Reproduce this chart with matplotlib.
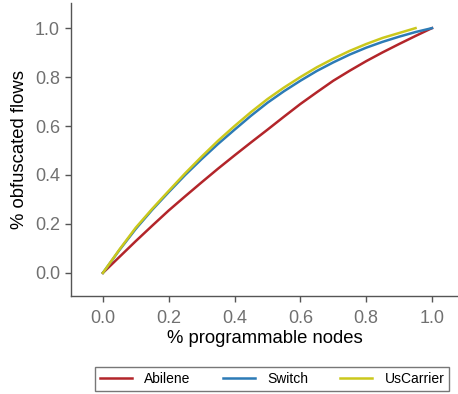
import matplotlib
matplotlib.use("Agg")
import matplotlib.pyplot as plt

plt.rcParams['font.family'] = ['Liberation Sans', 'DejaVu Sans']

# programmable nodes fraction
x_full = [0.0, 0.05, 0.1, 0.15, 0.2, 0.25, 0.3, 0.35, 0.4, 0.45, 0.5,
          0.55, 0.6, 0.65, 0.7, 0.75, 0.8, 0.85, 0.9, 0.95, 1.0]
abilene = [0.0, 0.065, 0.13, 0.193, 0.255, 0.313, 0.37, 0.426, 0.48, 0.533, 0.585,
           0.638, 0.69, 0.738, 0.785, 0.826, 0.865, 0.901, 0.935, 0.968, 1.0]
switch = [0.0, 0.093, 0.18, 0.258, 0.33, 0.4, 0.465, 0.527, 0.585, 0.642, 0.695,
          0.742, 0.785, 0.825, 0.86, 0.892, 0.92, 0.944, 0.965, 0.984, 1.0]
x_us = x_full[:20]
uscarrier = [0.0, 0.095, 0.185, 0.262, 0.335, 0.407, 0.475, 0.54, 0.6, 0.657, 0.71,
             0.757, 0.8, 0.84, 0.875, 0.907, 0.935, 0.96, 0.98, 1.0]

xticks = [0.0, 0.2, 0.4, 0.6, 0.8, 1.0]
yticks = [0.0, 0.2, 0.4, 0.6, 0.8, 1.0]

fig = plt.figure(figsize=(4.58, 3.94), dpi=100)
ax = fig.add_axes([0.155, 0.249, 0.845, 0.743])

ax.plot(x_full, abilene, color='#B3252A', lw=1.8, label='Abilene')
ax.plot(x_full, switch, color='#2C7BB6', lw=1.8, label='Switch')
ax.plot(x_us, uscarrier, color='#CBC81C', lw=1.8, label='UsCarrier')

ax.set_xlim(-0.097, 1.079)
ax.set_ylim(-0.094, 1.102)
ax.set_xticks(xticks)
ax.set_yticks(yticks)
ax.set_xticklabels([f'{v:.1f}' for v in xticks])
ax.set_yticklabels([f'{v:.1f}' for v in yticks])

for s in ['top', 'right']:
    ax.spines[s].set_visible(False)
for s in ['left', 'bottom']:
    ax.spines[s].set_color('#555555')
    ax.spines[s].set_linewidth(1.0)
ax.tick_params(colors='#555555', labelcolor='#707070', labelsize=13, length=4, width=1)
ax.tick_params(axis='x', pad=6)
ax.tick_params(axis='y', pad=4)

ax.set_xlabel('% programmable nodes', fontsize=13.3, color='black', labelpad=2)
ax.set_ylabel('% obfuscated flows', fontsize=13.3, color='black', labelpad=5)

h, l = ax.get_legend_handles_labels()
leg = fig.legend(h, l, loc='center', bbox_to_anchor=(0.594, 0.038), ncol=3,
                 fontsize=10, frameon=True, fancybox=False, handlelength=2.3,
                 columnspacing=2.3, borderpad=0.35, handletextpad=0.9)
leg.get_frame().set_edgecolor('#555555')
leg.get_frame().set_linewidth(1.0)

fig.savefig('out.png', dpi=100)
